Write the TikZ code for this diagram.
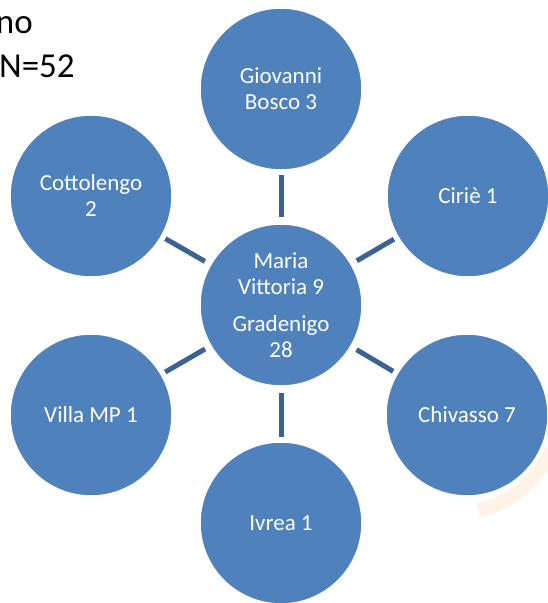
\documentclass[tikz,border=0pt]{standalone}
\usepackage{fontspec}
\setmainfont{Carlito}
\usetikzlibrary{calc,positioning}
\definecolor{bubbleblue}{RGB}{79,129,189}
\definecolor{spokeblue}{RGB}{58,98,148}
\definecolor{wmarkorange}{RGB}{254,243,230}

\begin{document}
\begin{tikzpicture}[x=1pt,y=-1pt,
    bubble/.style={circle,fill=bubbleblue,draw=white,line width=1.5pt,minimum size=162pt,
      inner sep=0pt,align=center,text=white,font=\fontsize{23}{26}\selectfont},
    spoke/.style={spokeblue,line width=5pt,shorten <=6pt,shorten >=4pt},
    heading/.style={inner sep=0pt,font=\fontsize{35}{42}\selectfont}]
      \useasboundingbox (0,0) rectangle (547,603);
      \def\cx{281}
      \def\cy{305}
      %Faint mark in the background
      \draw[wmarkorange,line width=14pt] (478,510) .. controls (510,503) and (535,483) .. (552,450);
      %Heading, partly off the page
      \node[heading,anchor=base east] (no) at (33,33) {no};
      \node[heading,anchor=base west] (total) at (-1,77) {N=52};
      %Draw the hub
      \node[bubble] (hub) at (\cx,\cy) {Maria\\Vittoria 9\\[11pt]Gradenigo\\28};
      %Draw the outer bubbles
      \foreach \name/\x/\y/\txt in {gb/281/89/{Giovanni\\Bosco 3},
                                    ci/468/196/{Ciriè 1},
                                    ch/467/415/{Chivasso 7},
                                    iv/281/523/{Ivrea 1},
                                    vm/91/415/{Villa MP 1},
                                    co/91/196/{Cottolengo\\2}} {
          \node[bubble] (\name) at (\x,\y) {\txt};
        }
      %Draw the spokes
      \foreach \name in {gb,ci,ch,iv,vm,co} {
          \draw[spoke] (hub) -- (\name);
        }
    \end{tikzpicture}
\end{document}
